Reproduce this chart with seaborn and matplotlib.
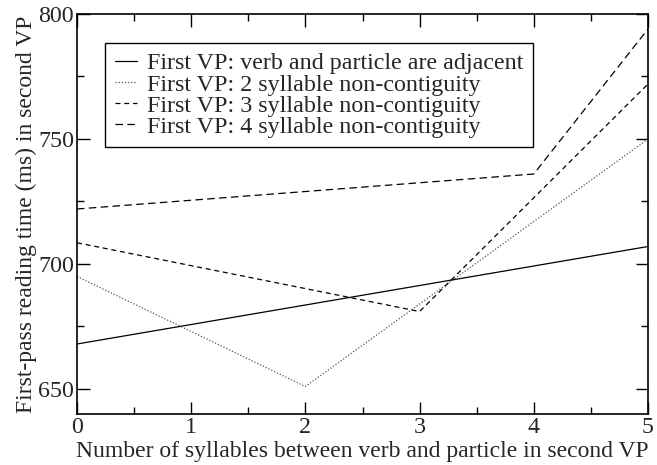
import matplotlib
matplotlib.use("Agg")
import matplotlib.pyplot as plt
import seaborn as sns
import pandas as pd
from matplotlib.ticker import MultipleLocator

sns.set_theme(style="ticks")
plt.rcParams['font.family'] = ['Liberation Serif', 'DejaVu Serif']

series_names = [
    "First VP: verb and particle are adjacent",
    "First VP: 2 syllable non-contiguity",
    "First VP: 3 syllable non-contiguity",
    "First VP: 4 syllable non-contiguity",
]
x_adjacent = [0, 5]
y_adjacent = [668, 707]
x_two = [0, 2, 5]
y_two = [695, 651, 750]
x_three = [0, 3, 5]
y_three = [708.5, 681, 772]
x_four = [0, 4, 5]
y_four = [722, 736, 794]

rows = []
for name, xs, ys in zip(series_names, [x_adjacent, x_two, x_three, x_four],
                        [y_adjacent, y_two, y_three, y_four]):
    for xv, yv in zip(xs, ys):
        rows.append({"x": xv, "y": yv, "series": name})
df = pd.DataFrame(rows)

fig = plt.figure(figsize=(6.57, 4.65), dpi=100)
ax = fig.add_axes([77/657, 51/465, 571/657, 400/465])

dashes = {
    series_names[0]: "",
    series_names[1]: (1, 1.5),
    series_names[2]: (4, 3),
    series_names[3]: (6, 3.5),
}
colors = {
    series_names[0]: "black",
    series_names[1]: "#555555",
    series_names[2]: "black",
    series_names[3]: "black",
}
sns.lineplot(data=df, x="x", y="y", hue="series", style="series",
             dashes=dashes, palette=colors, linewidth=0.9, ax=ax,
             hue_order=series_names, style_order=series_names, sort=False)

FS = 17.3
ax.set_xlim(0, 5)
ax.set_ylim(640, 800)
ax.xaxis.set_major_locator(MultipleLocator(1))
ax.xaxis.set_minor_locator(MultipleLocator(0.5))
ax.yaxis.set_major_locator(MultipleLocator(50))
ax.yaxis.set_minor_locator(MultipleLocator(25))
ax.tick_params(which="both", direction="in", top=True, right=True, color="black")
ax.tick_params(which="major", length=9, width=1, labelsize=FS, pad=2)
ax.tick_params(which="minor", length=5, width=1)
for s in ax.spines.values():
    s.set_color("black")
    s.set_linewidth(1.2)

ax.set_xlabel("Number of syllables between verb and particle in second VP", fontsize=17, labelpad=2)
ax.set_ylabel("First-pass reading time (ms) in second VP", fontsize=17, labelpad=1)

leg = ax.legend(loc="upper left", bbox_to_anchor=(28/571, 371/400), fontsize=FS,
                frameon=True, fancybox=False, edgecolor="black", framealpha=1,
                handlelength=0.95, handletextpad=0.4, borderpad=0.4, labelspacing=-0.03,
                borderaxespad=0)
leg.get_frame().set_linewidth(1.0)

fig.savefig("out.png", dpi=100)
